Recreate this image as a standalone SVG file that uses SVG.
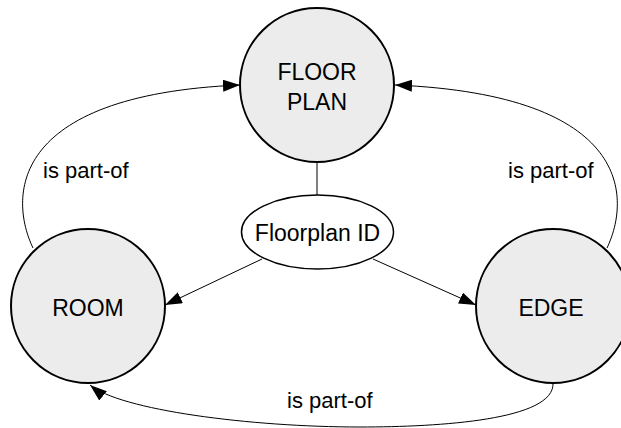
<svg xmlns="http://www.w3.org/2000/svg" width="621" height="428" viewBox="0 0 621 428">
<style>
.node{fill:#ececec;stroke:#000;stroke-width:2}
.attr{fill:#fff;stroke:#000;stroke-width:1.5}
.edge{fill:none;stroke:#000;stroke-width:1}
text{font-family:"Liberation Sans","DejaVu Sans",sans-serif;fill:#000}
.lbl{font-size:23px;text-anchor:middle}
.el{font-size:22px}
</style>
<defs>
<marker id="arr" markerUnits="userSpaceOnUse" markerWidth="17" markerHeight="12" viewBox="0 0 17 12" refX="17" refY="6" orient="auto">
<path d="M0,0 L17,6 L0,12 z" fill="#000"/>
</marker>
</defs>
<rect width="621" height="428" fill="#fff"/>
<g id="connectors">
<line class="edge" x1="317" y1="162" x2="317" y2="195"/>
<line class="edge" x1="262" y1="259" x2="165" y2="305" marker-end="url(#arr)"/>
<line class="edge" x1="373" y1="259" x2="476" y2="305" marker-end="url(#arr)"/>
<path class="edge" d="M33,248 C10,200 5,95 240,85" marker-end="url(#arr)"/>
<path class="edge" d="M607,248 C630,200 635,95 395,85" marker-end="url(#arr)"/>
<path class="edge" d="M553,383 C555,420 440,427 360,427 C250,427 120,410 90,385" marker-end="url(#arr)"/>
<text class="el" x="43" y="178">is part-of</text>
<text class="el" x="508" y="178">is part-of</text>
<text class="el" x="287" y="408">is part-of</text>
</g>
<g id="floorplan">
<circle class="node" cx="317" cy="85" r="77"/>
<text class="lbl" x="317" y="80">FLOOR</text>
<text class="lbl" x="317" y="110">PLAN</text>
</g>
<g id="floorplan-id">
<ellipse class="attr" cx="317.5" cy="232" rx="76" ry="37"/>
<text class="lbl" x="317.5" y="241">Floorplan ID</text>
</g>
<g id="room">
<circle class="node" cx="88" cy="306" r="77"/>
<text class="lbl" x="88" y="316">ROOM</text>
</g>
<g id="edge">
<circle class="node" cx="553" cy="306" r="77"/>
<text class="lbl" x="551" y="316">EDGE</text>
</g>
</svg>
